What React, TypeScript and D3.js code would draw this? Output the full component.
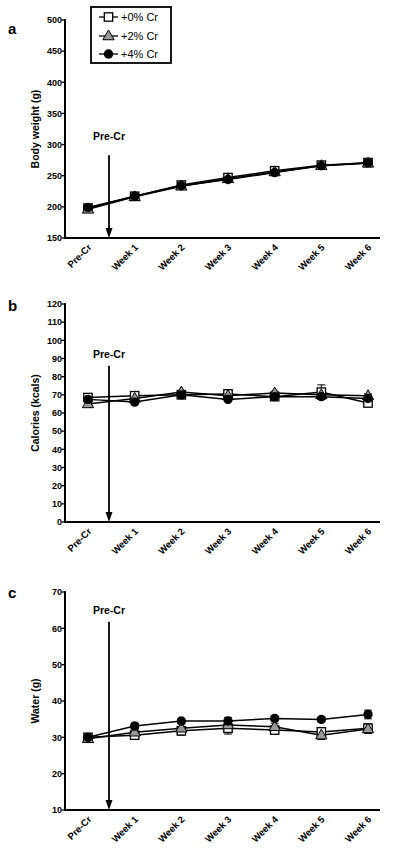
import React from "react";
import * as d3 from "d3";

const categories = ["Pre-Cr", "Week 1", "Week 2", "Week 3", "Week 4", "Week 5", "Week 6"];
const seriesNames = ["+0% Cr", "+2% Cr", "+4% Cr"];

// Panel a: body weight (g)
const weight0 = [198, 217, 235, 247, 258, 267, 271];
const weight2 = [196, 216, 233, 245, 256, 266, 270];
const weight4 = [199, 217, 234, 244, 255, 266, 271];
const weightErr0 = [3, 3, 3, 3, 3, 3, 3];
const weightErr2 = [3, 3, 3, 3, 3, 3, 3];
const weightErr4 = [3, 3, 3, 3, 3, 3, 3];
const weightTicks = [150, 200, 250, 300, 350, 400, 450, 500];

// Panel b: calories (kcals)
const cal0 = [68.5, 69.5, 70, 70.5, 69, 71.5, 65.5];
const cal2 = [65, 68, 71.5, 69.5, 71, 70, 69.5];
const cal4 = [67.5, 66, 70, 67.5, 69, 69, 68];
const calErr0 = [1.5, 1, 1, 1, 1, 4, 1];
const calErr2 = [1.5, 1, 1, 1, 1, 1.5, 1];
const calErr4 = [1.5, 1, 1, 1, 1, 1.5, 1];
const calTicks = [0, 10, 20, 30, 40, 50, 60, 70, 80, 90, 100, 110, 120];

// Panel c: water (g)
const water0 = [30, 30.6, 31.8, 32.5, 32, 31.5, 32.5];
const water2 = [29.6, 31.4, 32.5, 33.4, 32.9, 30.6, 32.3];
const water4 = [30, 33.1, 34.5, 34.5, 35.2, 34.9, 36.3];
const waterErr0 = [1, 1, 1.2, 1.6, 1, 1, 1.2];
const waterErr2 = [1, 1, 1.2, 1.4, 1, 1.2, 1.2];
const waterErr4 = [1, 0.8, 0.6, 1, 0.6, 0.6, 1.2];
const waterTicks = [10, 20, 30, 40, 50, 60, 70];

const FONT = "'Liberation Sans', Arial, sans-serif";

type PanelProps = {
  letter: string;
  title: string;
  domain: [number, number];
  ticks: number[];
  top: number;
  bottom: number;
  s0: number[];
  s2: number[];
  s4: number[];
  e0: number[];
  e2: number[];
  e4: number[];
  arrowTop: number;
  labelY: number;
  letterY: number;
};

const xScale = d3.scalePoint<string>().domain(categories).range([88, 368]);
const AXIS_X = 65;
const AXIS_END = 380;

function Marker({ kind, x, y }: { kind: number; x: number; y: number }) {
  if (kind === 0) {
    return <rect x={x - 4.2} y={y - 4.2} width={8.4} height={8.4} fill="#fff" stroke="#000" strokeWidth={1.3} />;
  }
  if (kind === 1) {
    const sym = d3.symbol().type(d3.symbolTriangle).size(55)();
    return <path d={sym || ""} transform={`translate(${x},${y + 0.5})`} fill="#999" stroke="#000" strokeWidth={1} />;
  }
  return <circle cx={x} cy={y} r={4.7} fill="#000" />;
}

function Panel(p: PanelProps) {
  const y = d3.scaleLinear().domain(p.domain).range([p.bottom, p.top]);
  const line = d3
    .line<number>()
    .x((_, i) => xScale(categories[i]) as number)
    .y((v) => y(v));
  const series = [
    { vals: p.s0, errs: p.e0 },
    { vals: p.s2, errs: p.e2 },
    { vals: p.s4, errs: p.e4 },
  ];
  const arrowX = 109;
  const mid = (p.top + p.bottom) / 2;
  return (
    <g>
      <text x={8} y={p.letterY} fontFamily={FONT} fontWeight="bold" fontSize={15}>
        {p.letter}
      </text>
      <text
        transform={`translate(${39},${mid}) rotate(-90)`}
        textAnchor="middle"
        fontFamily={FONT}
        fontWeight="bold"
        fontSize={10.5}
      >
        {p.title}
      </text>
      {/* y axis */}
      <line x1={AXIS_X} x2={AXIS_X} y1={p.top - 1} y2={p.bottom + 1} stroke="#000" strokeWidth={2} />
      {p.ticks.map((t) => (
        <g key={t}>
          <line x1={AXIS_X - 3.5} x2={AXIS_X} y1={y(t)} y2={y(t)} stroke="#000" strokeWidth={1.3} />
          <text
            x={AXIS_X - 3}
            y={y(t)}
            dy="0.36em"
            textAnchor="end"
            fontFamily={FONT}
            fontWeight="bold"
            fontSize={9}
          >
            {t}
          </text>
        </g>
      ))}
      {/* x axis */}
      <line x1={AXIS_X - 1} x2={AXIS_END} y1={p.bottom} y2={p.bottom} stroke="#000" strokeWidth={2} />
      {categories.map((c) => (
        <text
          key={c}
          transform={`translate(${(xScale(c) as number) + 4},${p.bottom + 10}) rotate(-45)`}
          textAnchor="end"
          fontFamily={FONT}
          fontWeight="bold"
          fontSize={9.5}
        >
          {c}
        </text>
      ))}
      {/* arrow */}
      <text x={arrowX} y={p.labelY} textAnchor="middle" fontFamily={FONT} fontWeight="bold" fontSize={10.5}>
        Pre-Cr
      </text>
      <line x1={arrowX} x2={arrowX} y1={y(p.arrowTop)} y2={p.bottom - 8} stroke="#000" strokeWidth={1.8} />
      <path
        d={`M${arrowX - 3.5},${p.bottom - 10} L${arrowX + 3.5},${p.bottom - 10} L${arrowX},${p.bottom} Z`}
        fill="#000"
      />
      {/* error bars */}
      {series.map((s, si) =>
        s.vals.map((v, i) => {
          const cx = xScale(categories[i]) as number;
          const hi = y(v + s.errs[i]);
          const lo = y(v - s.errs[i]);
          return (
            <g key={`e${si}-${i}`} stroke="#000" strokeWidth={1}>
              <line x1={cx} x2={cx} y1={hi} y2={lo} />
              <line x1={cx - 4} x2={cx + 4} y1={hi} y2={hi} />
              <line x1={cx - 4} x2={cx + 4} y1={lo} y2={lo} />
            </g>
          );
        })
      )}
      {/* lines */}
      {series.map((s, si) => (
        <path key={`l${si}`} d={line(s.vals) || ""} fill="none" stroke="#000" strokeWidth={1.5} />
      ))}
      {/* markers */}
      {series.map((s, si) =>
        s.vals.map((v, i) => (
          <Marker key={`m${si}-${i}`} kind={si} x={xScale(categories[i]) as number} y={y(v)} />
        ))
      )}
    </g>
  );
}

function Legend() {
  const rows = [17, 36, 54];
  return (
    <g>
      <rect x={91} y={7} width={80} height={56} fill="#fff" stroke="#000" strokeWidth={1.8} />
      {seriesNames.map((n, i) => (
        <g key={n}>
          <line x1={99} x2={118} y1={rows[i]} y2={rows[i]} stroke="#000" strokeWidth={1.3} />
          <Marker kind={i} x={108.5} y={rows[i]} />
          <text x={121} y={rows[i]} dy="0.36em" fontFamily={FONT} fontSize={11}>
            {n}
          </text>
        </g>
      ))}
    </g>
  );
}

export default function App() {
  return (
    <svg
      width={400}
      height={849}
      style={{ position: "absolute", left: 0, top: 0, background: "#fff" }}
    >
      <rect x={0} y={0} width={400} height={849} fill="#fff" />
      <Panel
        letter="a"
        title="Body weight (g)"
        domain={[150, 500]}
        ticks={weightTicks}
        top={20}
        bottom={238}
        s0={weight0}
        s2={weight2}
        s4={weight4}
        e0={weightErr0}
        e2={weightErr2}
        e4={weightErr4}
        arrowTop={283}
        labelY={140}
        letterY={34}
      />
      <Legend />
      <Panel
        letter="b"
        title="Calories (kcals)"
        domain={[0, 120]}
        ticks={calTicks}
        top={304}
        bottom={522}
        s0={cal0}
        s2={cal2}
        s4={cal4}
        e0={calErr0}
        e2={calErr2}
        e4={calErr4}
        arrowTop={86}
        labelY={358}
        letterY={311}
      />
      <Panel
        letter="c"
        title="Water (g)"
        domain={[10, 70]}
        ticks={waterTicks}
        top={592}
        bottom={810}
        s0={water0}
        s2={water2}
        s4={water4}
        e0={waterErr0}
        e2={waterErr2}
        e4={waterErr4}
        arrowTop={61.8}
        labelY={614}
        letterY={598}
      />
    </svg>
  );
}
